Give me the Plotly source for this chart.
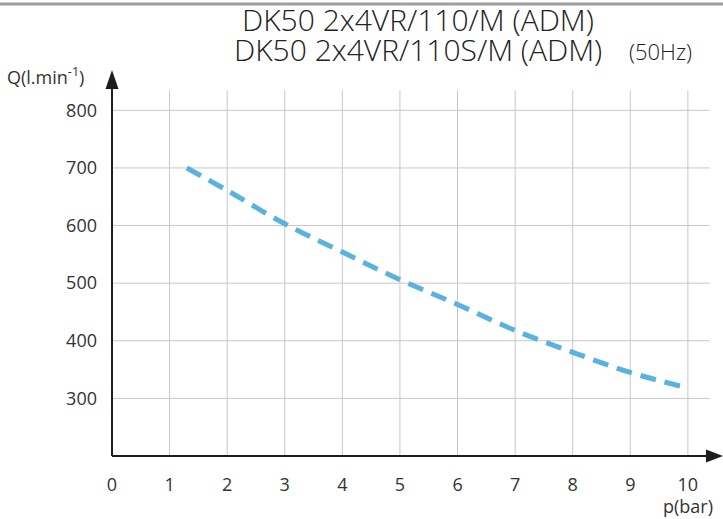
import plotly.graph_objects as go

# Flow curve of the compressor: pressure (bar) vs. delivered air (l/min)
pressure_bar = [1.3, 2, 3, 4, 5, 6, 7, 8, 9, 10]
flow_lpm = [700, 661, 603, 554, 506, 463, 418, 380, 345, 318]

x_ticks = [0, 1, 2, 3, 4, 5, 6, 7, 8, 9, 10]
y_ticks = [300, 400, 500, 600, 700, 800]

W, H = 723, 519
ML, MR, MT, MB = 112, 0, 70, 63
PW, PH = W - ML - MR, H - MT - MB


def px(xp):
    return (xp - ML) / PW


def py(yp):
    return (H - MB - yp) / PH


fig = go.Figure()

fig.add_trace(go.Scatter(
    x=pressure_bar, y=flow_lpm, mode="lines", line_shape="spline",
    line=dict(color="#5AB2E0", width=5, dash="16px,9px"),
    hoverinfo="skip", showlegend=False,
))

shapes = []
grid = dict(color="#C8C8C8", width=1)
for v in x_ticks[1:]:
    shapes.append(dict(type="line", xref="x", yref="y", x0=v, x1=v,
                       y0=200, y1=835, line=grid, layer="below"))
for v in y_ticks:
    shapes.append(dict(type="line", xref="x", yref="y", x0=0, x1=10.38,
                       y0=v, y1=v, line=grid, layer="below"))

axis_line = dict(color="#1E1E1E", width=2)
shapes.append(dict(type="line", xref="paper", yref="paper", x0=0, x1=0,
                   y0=0, y1=py(85), line=axis_line))
shapes.append(dict(type="line", xref="paper", yref="paper", x0=0, x1=px(710),
                   y0=0, y1=0, line=axis_line))
# arrowheads at the ends of both axes
shapes.append(dict(type="path", xref="paper", yref="paper", xsizemode="pixel",
                   ysizemode="pixel", xanchor=0, yanchor=1,
                   path="M-6.5,-19 L0,0 L6.5,-19 Z",
                   fillcolor="#1E1E1E", line=dict(width=0)))
shapes.append(dict(type="path", xref="paper", yref="paper", xsizemode="pixel",
                   ysizemode="pixel", xanchor=1, yanchor=0,
                   path="M-17,-6.5 L0,0 L-17,6.5 Z",
                   fillcolor="#1E1E1E", line=dict(width=0)))
# rule across the top
shapes.append(dict(type="line", xref="paper", yref="paper",
                   x0=px(0), x1=px(W), y0=py(4), y1=py(4),
                   line=dict(color="#9E9E9E", width=3)))

font_main = "Open Sans"
annotations = [
    dict(text="DK50 2x4VR/110/M (ADM)", x=px(418), y=py(20),
         font=dict(size=30, color="#222", weight=300)),
    dict(text="DK50 2x4VR/110S/M (ADM)", x=px(418), y=py(49),
         font=dict(size=30, color="#222", weight=300)),
    dict(text="(50Hz)", x=px(660), y=py(51),
         font=dict(size=22, color="#222", weight=300)),
    dict(text="Q(l.min<sup>-1</sup>)", x=px(45), y=py(76),
         font=dict(size=18, color="#333")),
    dict(text="p(bar)", x=px(688), y=py(506),
         font=dict(size=18, color="#333")),
]
for a in annotations:
    a.update(xref="paper", yref="paper", showarrow=False,
             xanchor="center", yanchor="middle")
    a["font"]["family"] = font_main

fig.update_layout(
    width=W, height=H,
    margin=dict(l=ML, r=MR, t=MT, b=MB, pad=0),
    paper_bgcolor="white", plot_bgcolor="white",
    shapes=shapes, annotations=annotations,
    font=dict(family=font_main, color="#333"),
    xaxis=dict(range=[0, 10.61], showgrid=False, zeroline=False,
               showline=False, tickvals=x_ticks, ticks="",
               ticklabelstandoff=16, tickfont=dict(size=18, color="#333")),
    yaxis=dict(range=[200, 870], showgrid=False, zeroline=False,
               showline=False, tickvals=y_ticks, ticks="",
               ticklabelstandoff=14, tickfont=dict(size=18, color="#333")),
)

fig.write_html("out.html")
